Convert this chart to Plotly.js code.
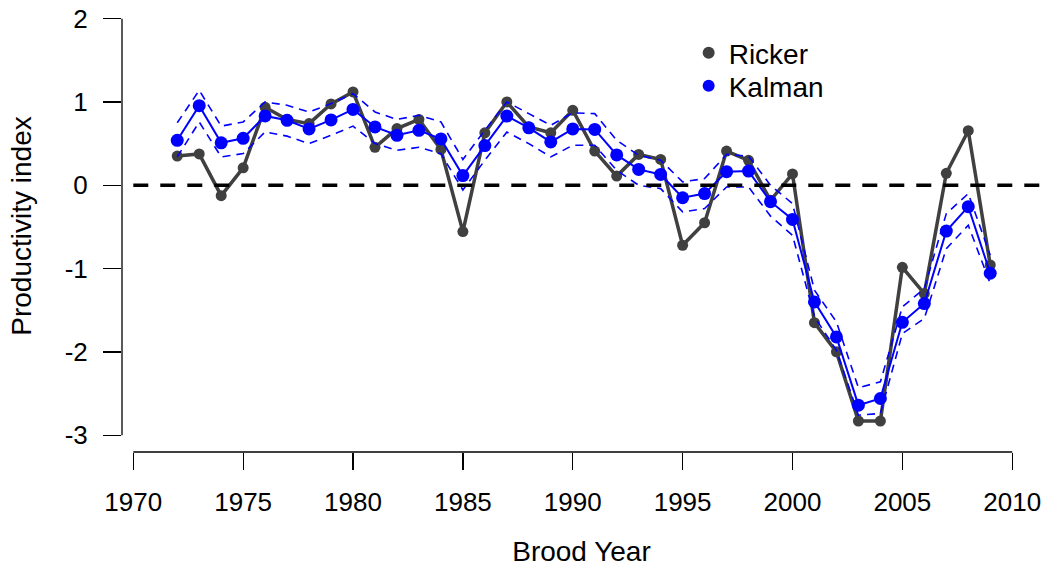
<!DOCTYPE html>
<html>
<head>
<meta charset="utf-8">
<script src="https://cdn.plot.ly/plotly-3.0.1.min.js"></script>
<style>
  html, body { margin: 0; padding: 0; background: #ffffff; }
  #chart { width: 1041px; height: 567px; }
</style>
</head>
<body>
<div id="chart"></div>
<script>
// Brood years
const years = [1972, 1973, 1974, 1975, 1976, 1977, 1978, 1979, 1980, 1981,
               1982, 1983, 1984, 1985, 1986, 1987, 1988, 1989, 1990, 1991,
               1992, 1993, 1994, 1995, 1996, 1997, 1998, 1999, 2000, 2001,
               2002, 2003, 2004, 2005, 2006, 2007, 2008, 2009];

// Ricker residual productivity index
const ricker = [0.35, 0.376, -0.125, 0.21, 0.936, 0.79, 0.74, 0.976, 1.12, 0.456,
                0.68, 0.79, 0.43, -0.556, 0.63, 1.0, 0.70, 0.63, 0.90, 0.41,
                0.11, 0.37, 0.31, -0.72, -0.45, 0.41, 0.30, -0.18, 0.136, -1.65,
                -2.0, -2.83, -2.83, -0.985, -1.30, 0.144, 0.655, -0.957];

// Kalman filter estimate and its interval
const kalman = [0.54, 0.955, 0.51, 0.564, 0.832, 0.78, 0.676, 0.784, 0.91, 0.70,
                0.60, 0.66, 0.556, 0.116, 0.476, 0.83, 0.69, 0.52, 0.676, 0.67,
                0.364, 0.19, 0.13, -0.15, -0.10, 0.163, 0.17, -0.197, -0.41, -1.40,
                -1.82, -2.64, -2.56, -1.645, -1.42, -0.55, -0.257, -1.056];
const kalmanUpper = [0.75, 1.14, 0.71, 0.76, 1.0, 0.96, 0.88, 0.98, 1.10, 0.88,
                     0.79, 0.84, 0.76, 0.31, 0.66, 1.0, 0.86, 0.72, 0.87, 0.86,
                     0.54, 0.36, 0.30, 0.04, 0.08, 0.37, 0.35, 0.0, -0.22, -1.26,
                     -1.64, -2.43, -2.36, -1.46, -1.24, -0.34, -0.10, -0.84];
const kalmanLower = [0.34, 0.76, 0.34, 0.38, 0.64, 0.59, 0.50, 0.60, 0.71, 0.50,
                     0.42, 0.456, 0.38, -0.057, 0.30, 0.64, 0.50, 0.34, 0.48, 0.48,
                     0.18, 0.0, -0.04, -0.32, -0.28, -0.02, -0.02, -0.37, -0.60, -1.58,
                     -1.98, -2.76, -2.74, -1.78, -1.60, -0.76, -0.48, -1.18];

// Axis ticks
const xTicks = [1970, 1975, 1980, 1985, 1990, 1995, 2000, 2005, 2010];
const yTicks = [-3, -2, -1, 0, 1, 2];

const GRAY = '#404040';
const BLUE = '#0000ff';
const FONT = 'Liberation Sans, Arial, sans-serif';
const FS = 28;      // titles and legend
const TICK_FS = 26; // tick labels

const traces = [
  {
    x: years, y: ricker, type: 'scatter', mode: 'lines+markers',
    line: { color: GRAY, width: 3.5 },
    marker: { color: GRAY, size: 11 },
    showlegend: false, hoverinfo: 'x+y'
  },
  {
    x: years, y: kalman, type: 'scatter', mode: 'lines+markers',
    line: { color: BLUE, width: 2 },
    marker: { color: BLUE, size: 13 },
    showlegend: false, hoverinfo: 'x+y'
  },
  {
    x: years, y: kalmanUpper, type: 'scatter', mode: 'lines',
    line: { color: BLUE, width: 1.6, dash: '8px,6px' },
    showlegend: false, hoverinfo: 'skip'
  },
  {
    x: years, y: kalmanLower, type: 'scatter', mode: 'lines',
    line: { color: BLUE, width: 1.6, dash: '8px,6px' },
    showlegend: false, hoverinfo: 'skip'
  },
  // legend entries (markers only), one per legend box
  {
    x: [null], y: [null], type: 'scatter', mode: 'markers', name: 'Ricker',
    marker: { color: GRAY, size: 13 }, legend: 'legend'
  },
  {
    x: [null], y: [null], type: 'scatter', mode: 'markers', name: 'Kalman',
    marker: { color: BLUE, size: 13 }, legend: 'legend2'
  }
];

const legendBase = {
  x: 0.6166, xanchor: 'left', yanchor: 'middle',
  bgcolor: 'rgba(0,0,0,0)', borderwidth: 0,
  font: { family: FONT, size: FS }, itemsizing: 'constant'
};

const layout = {
  width: 1041, height: 567,
  margin: { l: 122, r: 0, t: 0, b: 115 },
  paper_bgcolor: '#ffffff', plot_bgcolor: '#ffffff',
  font: { family: FONT, size: FS, color: '#000000' },
  xaxis: {
    range: [1969.486, 2011.31],
    tickvals: xTicks, ticktext: xTicks.map(String),
    ticks: 'outside', ticklen: 17, tickwidth: 1.3, tickcolor: '#000',
    ticklabelstandoff: 10, ticklabeloverflow: 'allow',
    showline: false, showgrid: false, zeroline: false,
    tickfont: { family: FONT, size: TICK_FS },
    title: { text: 'Brood Year', font: { family: FONT, size: FS }, standoff: 30 }
  },
  yaxis: {
    range: [-3.202, 2.224],
    tickvals: yTicks, ticktext: yTicks.map(String),
    ticks: 'outside', ticklen: 18, tickwidth: 1.3, tickcolor: '#000',
    ticklabelstandoff: 10, ticklabeloverflow: 'allow',
    showline: false, showgrid: false, zeroline: false,
    tickfont: { family: FONT, size: TICK_FS },
    title: { text: 'Productivity index', font: { family: FONT, size: FS }, standoff: 24 }
  },
  shapes: [
    // x axis line spanning the ticks
    { type: 'line', xref: 'x', yref: 'paper', x0: xTicks[0], x1: xTicks[xTicks.length - 1],
      y0: 0, y1: 0, line: { color: '#000', width: 1.3 } },
    // y axis line spanning the ticks
    { type: 'line', xref: 'paper', yref: 'y', x0: 0, x1: 0,
      y0: yTicks[0], y1: yTicks[yTicks.length - 1], line: { color: '#000', width: 1.3 } },
    // zero reference
    { type: 'line', xref: 'x', yref: 'y', x0: xTicks[0], x1: 2011.31, y0: 0, y1: 0,
      line: { color: '#000', width: 3.5, dash: '15px,12px' } }
  ],
  legend: Object.assign({}, legendBase, { y: 0.8827 }),
  legend2: Object.assign({}, legendBase, { y: 0.8097 }),
  showlegend: true
};

Plotly.newPlot('chart', traces, layout, { displayModeBar: false, staticPlot: true });
</script>
</body>
</html>
